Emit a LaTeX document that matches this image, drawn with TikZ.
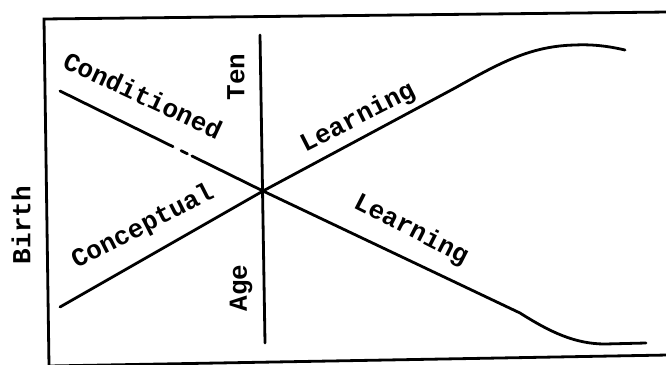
\documentclass[tikz,border=0pt]{standalone}
\usepackage{fontspec}
\setmonofont{Liberation Mono}
\begin{document}
\begin{tikzpicture}[x=1pt,y=-1pt,
  ln/.style={line width=2.8pt,line cap=round,line join=round},
  frame/.style={line width=2.8pt},
  lbl/.style={font=\ttfamily\bfseries\fontsize{26}{30}\selectfont,inner sep=0pt}]
\useasboundingbox (0,0) rectangle (666,364);
% frame
\coordinate (fbl) at (49,366);
\coordinate (ftl) at (44,19);
\coordinate (ftr) at (668,12);
\coordinate (fbr) at (668,355);
\draw[frame] (fbl) -- (ftl) -- (ftr);
\draw[frame] (fbl) -- (fbr);
% axis
\coordinate (top) at (260,35);
\coordinate (bot) at (265,343);
\coordinate (x) at (263,191);
\draw[ln] (top) -- (bot);
% lines
\coordinate (cs) at (60,91);
\coordinate (ps) at (60,307);
\draw[ln,dash pattern=on 126pt off 9pt on 7pt off 5pt on 300pt] (cs) -- (x);
\draw[ln] (ps) -- (x);
\coordinate (u1) at (455,88);
\coordinate (u2) at (575,45);
\coordinate (u3) at (625,50);
\draw[ln] (x) -- (u1) .. controls (500,63) and (530,46) .. (u2) .. controls (595,44) and (612,47) .. (u3);
\coordinate (l1) at (520,313);
\coordinate (l2) at (605,344);
\coordinate (l3) at (646,343);
\draw[ln] (x) -- (l1) .. controls (550,332) and (575,344) .. (l2) -- (l3);
% labels
\node[lbl,rotate=-25] (cond) at (143,95) {Conditioned};
\node[lbl,rotate=27] (lu) at (358,118) {Learning};
\node[lbl,rotate=27] (conc) at (143,227) {Conceptual};
\node[lbl,rotate=-27] (ll) at (411,230) {Learning};
\node[lbl,rotate=90] (ten) at (236,77) {Ten};
\node[lbl,rotate=90] (age) at (241,288) {Age};
\node[lbl,rotate=90] (birth) at (21,225) {Birth};
\end{tikzpicture}
\end{document}
